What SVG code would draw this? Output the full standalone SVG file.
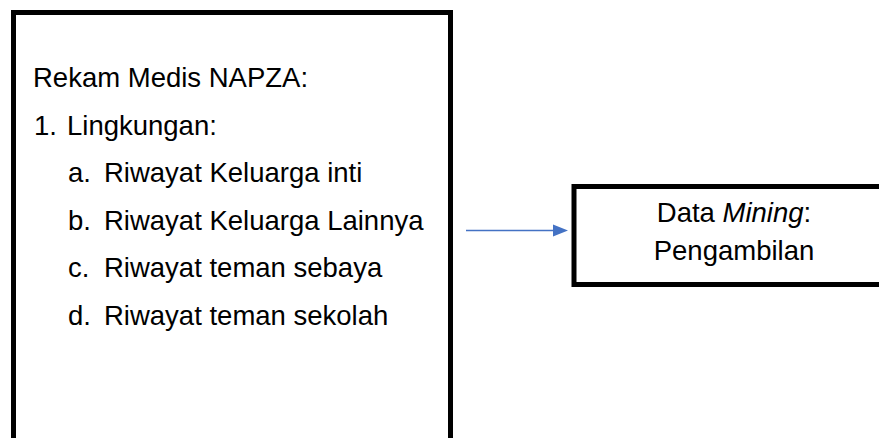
<svg xmlns="http://www.w3.org/2000/svg" width="879" height="438" viewBox="0 0 879 438">
<style>
.box{fill:#fff;stroke:#000;stroke-width:5}
.t{font-family:"Liberation Sans",Arial,sans-serif;font-size:27.5px;fill:#000}
.c{stroke:#4472C4;stroke-width:1.5;fill:none}
</style>
<g id="rekam-medis">
<rect class="box" x="13.5" y="12.5" width="437" height="440"/>
<text class="t" x="33" y="87">Rekam Medis NAPZA:</text>
<text class="t" x="34" y="134.5">1.</text>
<text class="t" x="67" y="134.5">Lingkungan:</text>
<text class="t" x="68" y="182">a.</text>
<text class="t" x="104" y="182">Riwayat Keluarga inti</text>
<text class="t" x="68" y="229.5">b.</text>
<text class="t" x="104" y="229.5">Riwayat Keluarga Lainnya</text>
<text class="t" x="68" y="277">c.</text>
<text class="t" x="104" y="277">Riwayat teman sebaya</text>
<text class="t" x="68" y="324.5">d.</text>
<text class="t" x="104" y="324.5">Riwayat teman sekolah</text>
</g>
<g id="data-mining">
<rect class="box" x="574" y="186.5" width="320" height="98"/>
<text class="t" x="734" y="222" text-anchor="middle">Data <tspan font-style="italic">Mining</tspan>:</text>
<text class="t" x="734" y="260" text-anchor="middle">Pengambilan</text>
</g>
<g id="connectors">
<line class="c" x1="466" y1="230.5" x2="556" y2="230.5"/>
<path d="M553,224.5 L568,230.5 L553,236.5 Z" fill="#4472C4"/>
</g>
</svg>
